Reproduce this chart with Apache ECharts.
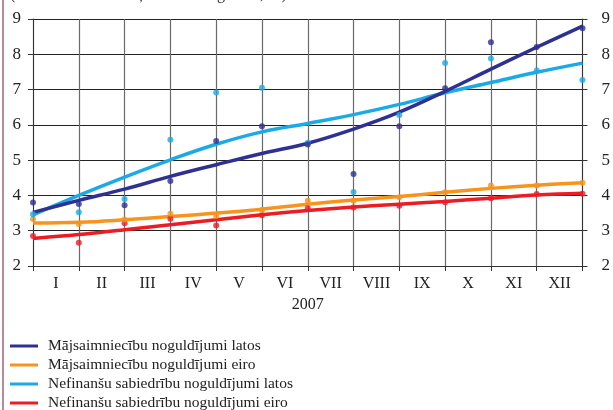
<!DOCTYPE html>
<html lang="lv">
<head>
<meta charset="UTF-8">
<title>Noguldījumu procentu likmes 2007</title>
<script src="https://cdn.jsdelivr.net/npm/echarts@6/dist/echarts.min.js"></script>
<style>
  html, body { margin: 0; padding: 0; background: #fff; }
  #chart { width: 613px; height: 410px; }
</style>
</head>
<body>
<div id="chart"></div>
<script>
// month boundaries 0..12 (points sit on the ticks)
const monthLabels = ['I', 'II', 'III', 'IV', 'V', 'VI', 'VII', 'VIII', 'IX', 'X', 'XI', 'XII'];
const positions = [0, 1, 2, 3, 4, 5, 6, 7, 8, 9, 10, 11, 12];
const yearLabel = '2007';
const seriesNames = [
  'Mājsaimniecību noguldījumi latos',
  'Mājsaimniecību noguldījumi eiro',
  'Nefinanšu sabiedrību noguldījumi latos',
  'Nefinanšu sabiedrību noguldījumi eiro'
];
const colors = ['#2e3192', '#f7941d', '#1caae6', '#ed1c24'];

// observed values (dots)
const hhLvDots  = [3.80, 3.76, 3.72, 4.41, 5.54, 5.96, 5.44, 4.61, 5.96, 7.04, 8.34, 8.21, 8.74];
const hhEurDots = [3.33, 3.19, 3.32, 3.48, 3.42, 3.59, 3.85, 3.85, 3.95, 4.09, 4.28, 4.28, 4.36];
const nfLvDots  = [3.47, 3.52, 3.90, 5.58, 6.92, 7.05, 5.49, 4.10, 6.28, 7.75, 7.88, 7.54, 7.27];
const nfEurDots = [2.85, 2.66, 3.21, 3.34, 3.15, 3.44, 3.64, 3.66, 3.71, 3.81, 3.92, 4.04, 4.05];

// trend lines
const hhLvTrend  = [3.52, 3.86, 4.18, 4.54, 4.87, 5.19, 5.48, 5.88, 6.36, 6.95, 7.58, 8.20, 8.80];
const hhEurTrend = [3.22, 3.24, 3.31, 3.40, 3.50, 3.61, 3.75, 3.87, 3.97, 4.09, 4.20, 4.29, 4.36];
const nfLvTrend  = [3.45, 4.00, 4.52, 5.01, 5.45, 5.80, 6.04, 6.29, 6.58, 6.91, 7.20, 7.49, 7.75];
const nfEurTrend = [2.78, 2.89, 3.03, 3.17, 3.31, 3.45, 3.57, 3.67, 3.75, 3.83, 3.92, 4.01, 4.06];

const dots = [hhLvDots, hhEurDots, nfLvDots, nfEurDots];
const trends = [hhLvTrend, hhEurTrend, nfLvTrend, nfEurTrend];

const serif = '"Liberation Serif", "DejaVu Serif", serif';
const chart = echarts.init(document.getElementById('chart'));

const series = [];
// red, orange, light blue, then dark blue on top
[3, 1, 2, 0].forEach(i => {
  series.push({
    name: seriesNames[i],
    type: 'line',
    smooth: 0.4,
    showSymbol: false,
    lineStyle: { width: 3.5, color: colors[i] },
    itemStyle: { color: colors[i] },
    data: positions.map((p, k) => [p, trends[i][k]]),
    z: 3
  });
  series.push({
    name: seriesNames[i] + ' ',
    type: 'scatter',
    symbolSize: 6,
    itemStyle: { color: colors[i] },
    data: positions.map((p, k) => [p, dots[i][k]]),
    z: 4
  });
});

// one legend per row so nothing wraps
const legends = seriesNames.map((n, i) => ({
  data: [{ name: n, icon: 'rect' }],
  orient: 'vertical',
  left: 5,
  top: 333 + i * 19,
  itemWidth: 28,
  itemHeight: 3,
  textStyle: { fontFamily: serif, fontSize: 15.5, color: '#222', padding: [0, 0, 0, 5] }
}));

chart.setOption({
  animation: false,
  grid: { left: 33, right: 27, top: 19, bottom: 144 },
  legend: legends,
  xAxis: [
    {
      type: 'value', min: 0, max: 12, interval: 1,
      axisLine: { show: true, onZero: false, lineStyle: { color: '#333', width: 1 } },
      axisTick: { show: true, length: 5, lineStyle: { color: '#333' } },
      axisLabel: { show: false },
      splitLine: { show: true, lineStyle: { color: '#6a6a6a', width: 1.2 } }
    },
    {
      type: 'category', position: 'bottom', data: monthLabels, boundaryGap: true,
      name: yearLabel, nameLocation: 'middle', nameGap: 30,
      nameTextStyle: { fontFamily: serif, fontSize: 16, color: '#222' },
      axisLine: { show: false }, axisTick: { show: false },
      axisLabel: { fontFamily: serif, fontSize: 16, color: '#222', margin: 10 },
      splitLine: { show: false }
    }
  ],
  yAxis: [
    {
      type: 'value', min: 2, max: 9, interval: 1,
      axisLine: { show: true, lineStyle: { color: '#333', width: 1 } },
      axisTick: { show: true, length: 5, lineStyle: { color: '#333' } },
      axisLabel: { fontFamily: serif, fontSize: 17, color: '#222', margin: 12 },
      splitLine: { show: true, lineStyle: { color: '#222', width: 1.2 } }
    },
    {
      type: 'value', min: 2, max: 9, interval: 1, position: 'right',
      axisLine: { show: true, lineStyle: { color: '#333', width: 1 } },
      axisTick: { show: true, length: 5, lineStyle: { color: '#333' } },
      axisLabel: { fontFamily: serif, fontSize: 17, color: '#222', margin: 19 },
      splitLine: { show: false }
    }
  ],
  graphic: [
    { type: 'line', shape: { x1: 3, y1: 0, x2: 3, y2: 410 }, style: { stroke: '#b58a9c', lineWidth: 2 } },
    { type: 'text', left: 10, top: -13,
      style: { text: '(ar nenoteiktu termiņu un līdz 1 gadam; %)', font: '16px ' + serif, fill: '#333' } }
  ],
  series: series
});
</script>
</body>
</html>
